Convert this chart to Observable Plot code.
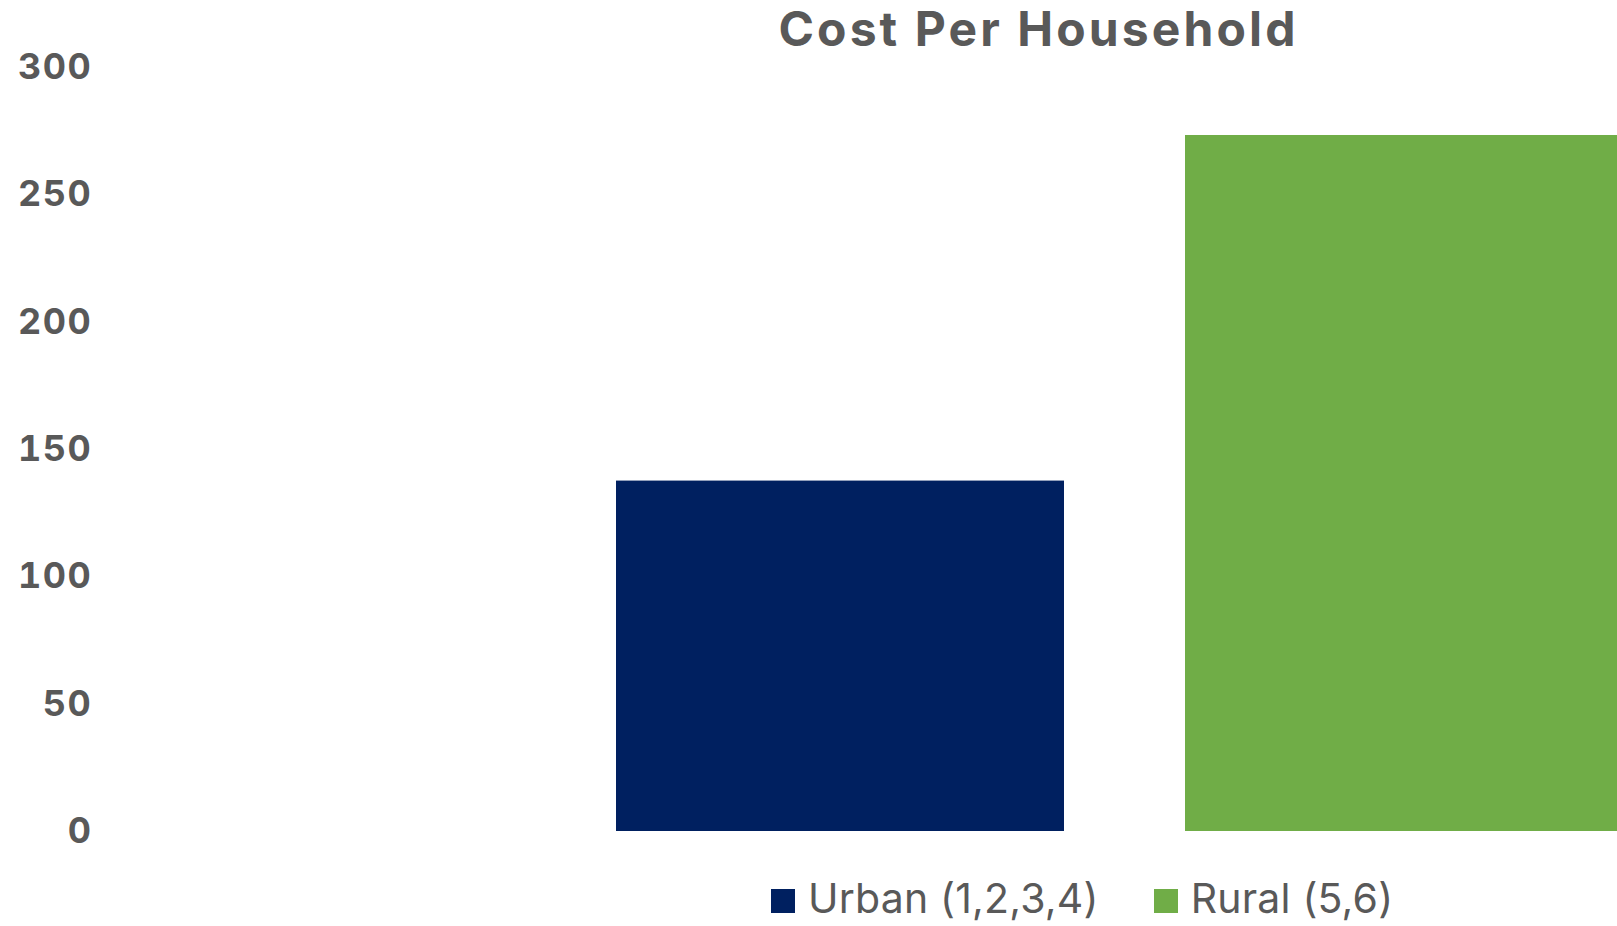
<!DOCTYPE html>
<html>
<head>
<meta charset="utf-8">
<script src="https://cdn.jsdelivr.net/npm/d3@7"></script>
<script src="https://cdn.jsdelivr.net/npm/@observablehq/plot@0.6"></script>
<style>
  html, body { margin: 0; padding: 0; background: #fff; }
  body { font-family: Inter, "Open Sans", sans-serif; color: #595959; width: 1617px; height: 926px; overflow: hidden; }
  #wrap { position: relative; width: 1617px; height: 926px; }
  #title { position: absolute; top: 0; left: 461px; width: 1155px; text-align: center;
           font-size: 48px; line-height: 57px; font-weight: 700; color: #595959; white-space: nowrap;
           letter-spacing: 3.1px; }
  #legend { position: absolute; top: 873px; left: 771px; display: flex; align-items: center;
            font-size: 41px; line-height: 50px; color: #595959; white-space: nowrap; letter-spacing: 0.2px; }
  .item { display: flex; align-items: center; margin-right: 55px; }
  .sw { width: 24px; height: 24px; margin-right: 13px; margin-top: 6px; }
</style>
</head>
<body>
<div id="wrap">
  <div id="chart"></div>
  <div id="title">Cost Per Household</div>
  <div id="legend"></div>
</div>
<script>
const categories = ["Urban (1,2,3,4)", "Rural (5,6)"];
const values = [137.6, 273.3];
const colors = ["#002060", "#70AD47"];
const yTicks = [0, 50, 100, 150, 200, 250, 300];

const data = categories.map((c, i) => ({category: c, value: values[i]}));

const chart = Plot.plot({
  width: 1617,
  height: 873,
  marginTop: 67,
  marginBottom: 42,
  marginLeft: 100,
  marginRight: 0,
  style: {fontFamily: "Inter, 'Open Sans', sans-serif", fontSize: "36px", fontWeight: 700, color: "#595959", background: "transparent", overflow: "visible", letterSpacing: "1.6px"},
  x: {type: "band", domain: categories, range: [616, 1633], paddingInner: 0.2127, paddingOuter: 0, align: 0.5, axis: null},
  y: {domain: [0, 300], ticks: yTicks, tickSize: 0, tickPadding: 8, label: null},
  color: {domain: categories, range: colors},
  marks: [
    Plot.barY(data, {x: "category", y: "value", fill: "category", clip: true})
  ]
});
document.getElementById("chart").appendChild(chart);

const legend = document.getElementById("legend");
categories.forEach((c, i) => {
  const item = document.createElement("div");
  item.className = "item";
  const sw = document.createElement("div");
  sw.className = "sw";
  sw.style.background = colors[i];
  const label = document.createElement("span");
  label.textContent = c;
  item.appendChild(sw);
  item.appendChild(label);
  legend.appendChild(item);
});
</script>
</body>
</html>
